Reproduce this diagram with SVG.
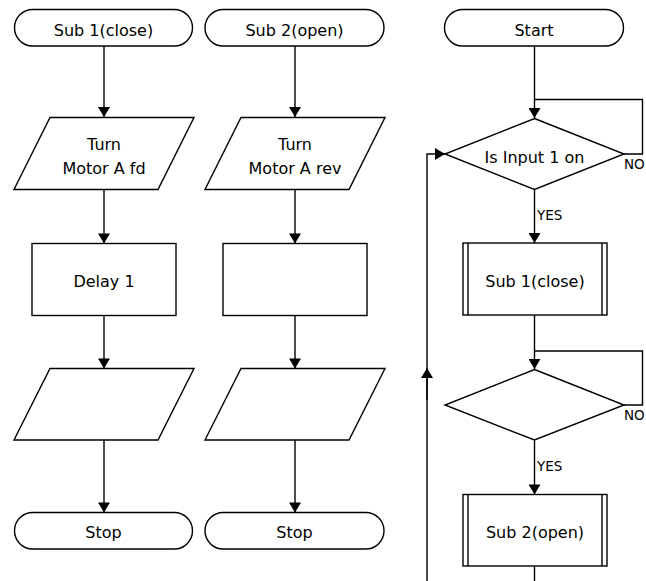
<svg xmlns="http://www.w3.org/2000/svg" width="646" height="581" viewBox="0 0 646 581">
<style>
.s{fill:#fff;stroke:#000;stroke-width:1.4}
.c{fill:none;stroke:#000;stroke-width:1.4}
.t{font-family:"DejaVu Sans",Verdana,sans-serif;font-size:16px;fill:#000;text-anchor:middle}
.l{font-family:"DejaVu Sans",Verdana,sans-serif;font-size:13.5px;fill:#000}
</style>
<defs>
<marker id="a" markerUnits="userSpaceOnUse" markerWidth="12" markerHeight="12" viewBox="0 0 10 12" refX="10" refY="6" orient="auto">
<path d="M0,0 L10,6 L0,12 Z" fill="#000"/>
</marker>
</defs>
<rect width="646" height="581" fill="#fff"/>
<g id="connectors">
<path class="c" d="M104,46 V117" marker-end="url(#a)"/>
<path class="c" d="M104,189.5 V243.5" marker-end="url(#a)"/>
<path class="c" d="M104,315.5 V368.5" marker-end="url(#a)"/>
<path class="c" d="M104,440 V512.5" marker-end="url(#a)"/>
<path class="c" d="M295,46 V117" marker-end="url(#a)"/>
<path class="c" d="M295,189.5 V243.5" marker-end="url(#a)"/>
<path class="c" d="M295,315.5 V368.5" marker-end="url(#a)"/>
<path class="c" d="M295,440 V512.5" marker-end="url(#a)"/>
<path class="c" d="M534.5,46 V118" marker-end="url(#a)"/>
<path class="c" d="M624,154 H642.5 V99.5 H534.5"/>
<path class="c" d="M534.5,189.5 V243" marker-end="url(#a)"/>
<path class="c" d="M534.5,315 V369" marker-end="url(#a)"/>
<path class="c" d="M624,405 H642.5 V351 H534.5"/>
<path class="c" d="M534.5,440 V494.5" marker-end="url(#a)"/>
<path class="c" d="M534.5,566 V581"/>
<path class="c" d="M427,581 V154 H445" marker-end="url(#a)"/>
<path class="c" d="M427,400 V368" marker-end="url(#a)"/>
<text class="l" x="624" y="168.5">NO</text>
<text class="l" x="537" y="220">YES</text>
<text class="l" x="624" y="420">NO</text>
<text class="l" x="537" y="471">YES</text>
</g>
<g id="sub1">
<rect class="s" x="14.5" y="9.5" width="178" height="36.5" rx="18.25"/>
<text class="t" x="103.5" y="35.5">Sub 1(close)</text>
</g>
<g id="turnfd">
<path class="s" d="M50,117.5 H194 L158,189.5 H14 Z"/>
<text class="t" x="104" y="149.5">Turn</text>
<text class="t" x="104" y="173.5">Motor A fd</text>
</g>
<g id="delay1">
<rect class="s" x="32" y="243.5" width="144" height="72"/>
<text class="t" x="104" y="286.5">Delay 1</text>
</g>
<g id="out1">
<path class="s" d="M50,368.5 H194 L158,440 H14 Z"/>
</g>
<g id="stop1">
<rect class="s" x="14.5" y="512.5" width="178" height="36.5" rx="18.25"/>
<text class="t" x="103.5" y="537.5">Stop</text>
</g>
<g id="sub2">
<rect class="s" x="205" y="9.5" width="179" height="36.5" rx="18.25"/>
<text class="t" x="294.5" y="35.5">Sub 2(open)</text>
</g>
<g id="turnrev">
<path class="s" d="M241,117.5 H385 L349,189.5 H205 Z"/>
<text class="t" x="295" y="149.5">Turn</text>
<text class="t" x="295" y="173.5">Motor A rev</text>
</g>
<g id="rect2">
<rect class="s" x="223" y="243.5" width="144" height="72"/>
</g>
<g id="out2">
<path class="s" d="M241,368.5 H385 L349,440 H205 Z"/>
</g>
<g id="stop2">
<rect class="s" x="205" y="512.5" width="179" height="36.5" rx="18.25"/>
<text class="t" x="294.5" y="537.5">Stop</text>
</g>
<g id="start">
<rect class="s" x="444.5" y="9.5" width="179" height="36.5" rx="18.25"/>
<text class="t" x="534" y="36">Start</text>
</g>
<g id="input1">
<path class="s" d="M534.5,118.5 L624,154 L534.5,189.5 L445,154 Z"/>
<text class="t" x="534.5" y="162.5">Is Input 1 on</text>
</g>
<g id="callsub1">
<rect class="s" x="463" y="243" width="144" height="72"/>
<path class="c" d="M468,243 V315 M602,243 V315"/>
<text class="t" x="535" y="287">Sub 1(close)</text>
</g>
<g id="decision2">
<path class="s" d="M534.5,369.5 L624,405 L534.5,440 L445,405 Z"/>
</g>
<g id="callsub2">
<rect class="s" x="463" y="494.5" width="144" height="71.5"/>
<path class="c" d="M468,494.5 V566 M602,494.5 V566"/>
<text class="t" x="535" y="538">Sub 2(open)</text>
</g>
</svg>
